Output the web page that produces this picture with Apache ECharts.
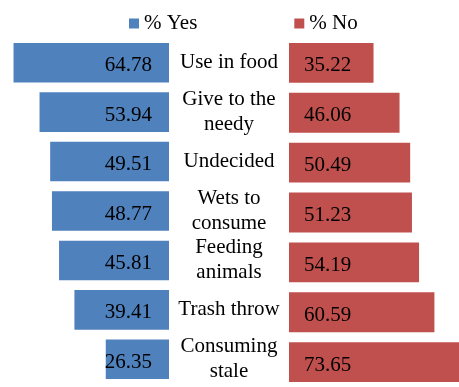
<!DOCTYPE html>
<html><head><meta charset="utf-8">
<script src="https://cdn.jsdelivr.net/npm/echarts@6/dist/echarts.min.js"></script>
<style>html,body{margin:0;padding:0;background:#fff}#c{width:459px;height:387px}</style>
</head><body><div id="c"></div>
<script>
var categories = ['Use in food', 'Give to the\nneedy', 'Undecided', 'Wets to\nconsume', 'Feeding\nanimals', 'Trash throw', 'Consuming\nstale'];
var yesValues = [64.78, 53.94, 49.51, 48.77, 45.81, 39.41, 26.35];
var noValues = [35.22, 46.06, 50.49, 51.23, 54.19, 60.59, 73.65];
var seriesNames = ['% Yes', '% No'];

var font = '"Liberation Serif", "Times New Roman", serif';
var chart = echarts.init(document.getElementById('c'));
chart.setOption({
  animation: false,
  textStyle: {fontFamily: font},
  legend: {
    left: 124, top: 8, itemWidth: 10, itemHeight: 10, itemGap: 97,
    icon: 'rect',
    textStyle: {fontFamily: font, fontSize: 21, color: '#000'},
    data: seriesNames
  },
  grid: [
    {left: 1, width: 168, top: 38, height: 350},
    {left: 289, width: 170, top: 38, height: 350}
  ],
  xAxis: [
    {gridIndex: 0, type: 'value', min: 0, max: 70, inverse: true, show: false},
    {gridIndex: 1, type: 'value', min: 0, max: 170 / 2.4, show: false}
  ],
  yAxis: [
    {gridIndex: 0, type: 'category', data: categories, inverse: true, position: 'right',
     axisLine: {show: false}, axisTick: {show: false},
     axisLabel: {show: true, align: 'center', margin: 60, fontFamily: font, fontSize: 21, lineHeight: 25, color: '#000', padding: [0, 0, 6, 0]}},
    {gridIndex: 1, type: 'category', data: categories, inverse: true, show: false}
  ],
  series: [
    {name: seriesNames[0], type: 'bar', xAxisIndex: 0, yAxisIndex: 0, data: yesValues,
     barCategoryGap: '20%', itemStyle: {color: '#4F81BD'},
     label: {show: true, position: 'insideRight', distance: 17, offset: [0, 3], fontFamily: font, fontSize: 21, color: '#000', formatter: function(p){return p.value.toFixed(2);}}},
    {name: seriesNames[1], type: 'bar', xAxisIndex: 1, yAxisIndex: 1, data: noValues,
     barCategoryGap: '20%', itemStyle: {color: '#C0504D'},
     label: {show: true, position: 'insideLeft', distance: 15, offset: [0, 3], fontFamily: font, fontSize: 21, color: '#000', formatter: function(p){return p.value.toFixed(2);}}}
  ]
});
</script></body></html>
